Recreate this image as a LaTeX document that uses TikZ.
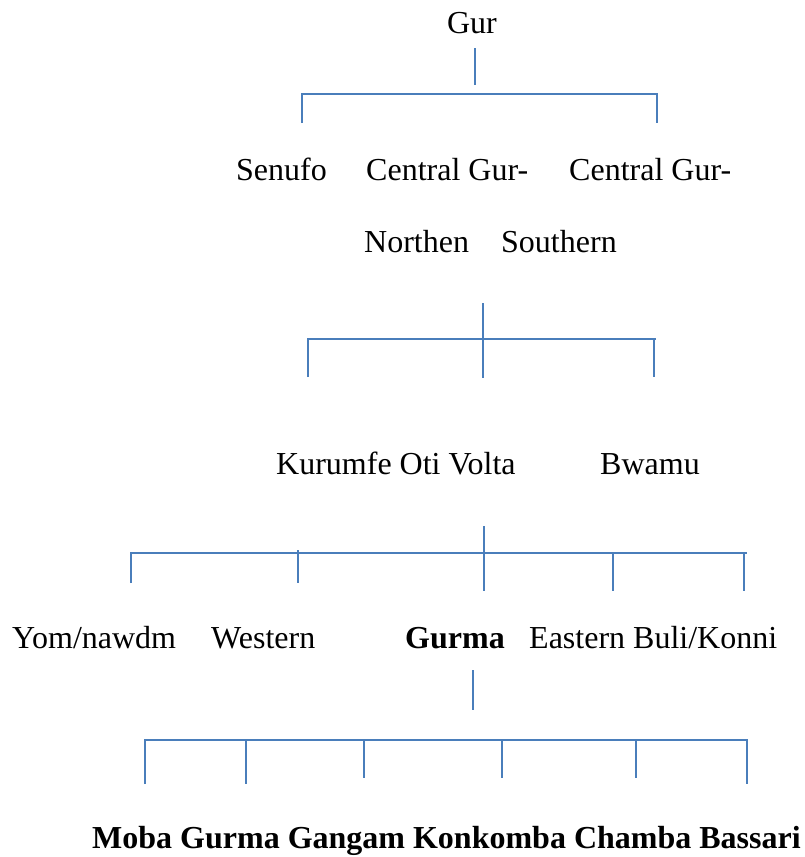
\documentclass[tikz,border=0pt]{standalone}
\usepackage{fontspec}
\setmainfont{Liberation Serif}
\begin{document}
\begin{tikzpicture}[x=1pt,y=-1pt,
  lbl/.style={anchor=base west,inner sep=0pt,font=\fontsize{32}{38}\selectfont},
  blbl/.style={lbl,font=\fontsize{32}{38}\selectfont\bfseries},
  br/.style={draw=treeblue,line width=2pt}]
\definecolor{treeblue}{HTML}{4A7EBB}
\useasboundingbox (0,0) rectangle (805,857);

% labels
\node[lbl,anchor=base] (gur) at (472,33) {Gur};
\node[lbl] (senufo) at (236,180) {Senufo};
\node[lbl] (cgn) at (366,180) {Central Gur-};
\node[lbl] (cgs) at (569,180) {Central Gur-};
\node[lbl] (north) at (364,252) {Northen};
\node[lbl] (south) at (501,252) {Southern};
\node[lbl] (kov) at (276,474) {Kurumfe Oti Volta};
\node[lbl] (bwamu) at (600,474) {Bwamu};
\node[lbl] (yom) at (12,648) {Yom/nawdm};
\node[lbl] (west) at (211,648) {Western};
\node[blbl] (gurma) at (405,648) {Gurma};
\node[lbl] (east) at (529,648) {Eastern Buli/Konni};
\node[blbl] (leaves) at (92,848) {Moba Gurma Gangam Konkomba Chamba Bassari};

% bracket 1: Gur
\coordinate (a0) at (475,48);
\coordinate (a1) at (475,85);
\draw[br] (a0) -- (a1);
\coordinate (aL) at (302,123);
\coordinate (aR) at (657,123);
\draw[br] (aL) -- (302,94) -- (657,94) -- (aR);

% bracket 2: Central Gur
\coordinate (b0) at (483,303);
\coordinate (b1) at (483,378);
\draw[br] (b0) -- (b1);
\coordinate (bL) at (308,377);
\coordinate (bR) at (654,377);
\draw[br] (bL) -- (308,339) -- (656,339);
\draw[br] (654,339) -- (bR);

% bracket 3: Oti Volta
\coordinate (c0) at (484,526);
\coordinate (c1) at (484,591);
\draw[br] (c0) -- (c1);
\draw[br] (131,583) -- (131,553) -- (747,553);
\foreach \x/\y in {298/583, 613/591, 744/591}
  \draw[br] (\x,553) -- (\x,\y);
\draw[br] (298,550) -- (298,553);

% bracket 4: Gurma
\coordinate (d0) at (473,670);
\coordinate (d1) at (473,710);
\draw[br] (d0) -- (d1);
\draw[br] (145,784) -- (145,740) -- (747,740) -- (747,784);
\foreach \x/\y in {246/784, 364/778, 502/778, 636/778}
  \draw[br] (\x,740) -- (\x,\y);
\end{tikzpicture}
\end{document}
